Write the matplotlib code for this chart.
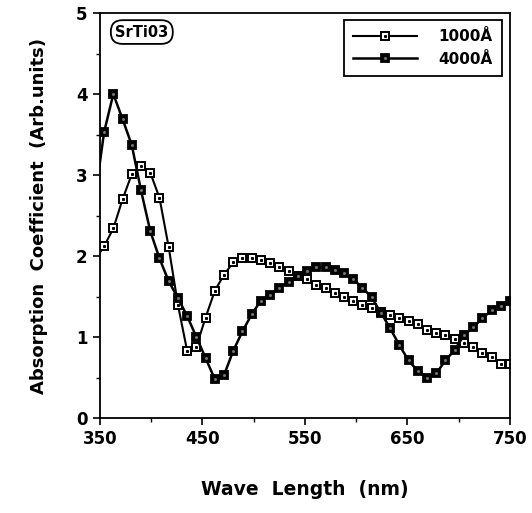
import matplotlib
matplotlib.use("Agg")
import matplotlib.pyplot as plt
from matplotlib.legend_handler import HandlerTuple

# wavelength grid (first point sits just left of the frame)
wavelength = [345, 354, 363, 372, 381, 390, 399, 408, 417, 426, 435, 444, 453,
              462, 471, 480, 489, 498, 507, 516, 525, 534, 543, 552, 561, 570,
              579, 588, 597, 606, 615, 624, 633, 642, 651, 660, 669, 678, 687,
              696, 705, 714, 723, 732, 741, 750]

a1000 = [1.95, 2.12, 2.34, 2.70, 3.01, 3.11, 3.03, 2.72, 2.11, 1.40, 0.83, 0.88,
         1.24, 1.57, 1.77, 1.92, 1.97, 1.97, 1.95, 1.91, 1.87, 1.81, 1.75, 1.71,
         1.64, 1.60, 1.54, 1.50, 1.45, 1.40, 1.36, 1.31, 1.27, 1.24, 1.20, 1.16,
         1.09, 1.05, 1.03, 0.97, 0.92, 0.88, 0.80, 0.75, 0.67, 0.67]

a4000 = [2.70, 3.53, 4.00, 3.69, 3.37, 2.81, 2.31, 1.97, 1.69, 1.48, 1.26, 1.00,
         0.74, 0.48, 0.53, 0.83, 1.07, 1.28, 1.45, 1.52, 1.61, 1.68, 1.75, 1.82,
         1.86, 1.86, 1.83, 1.79, 1.71, 1.61, 1.49, 1.30, 1.11, 0.90, 0.71, 0.58,
         0.50, 0.55, 0.71, 0.84, 1.02, 1.12, 1.23, 1.33, 1.38, 1.45]

labels = ["1000\u00c5", "4000\u00c5"]
x_ticks = [350, 450, 550, 650, 750]
y_ticks = [0, 1, 2, 3, 4, 5]

plt.rcParams["font.family"] = ["DejaVu Sans"]
plt.rcParams["font.weight"] = "bold"

fig = plt.figure(figsize=(5.32, 5.13), dpi=100)
ax = fig.add_axes([100 / 532, 1 - 418 / 513, 410 / 532, 405 / 513])

l1, = ax.plot(wavelength, a1000, color="black", lw=1.5, marker="s", ms=5.5,
              mfc="white", mec="black", mew=1.4)
d1, = ax.plot(wavelength, a1000, ls="none", marker="s", ms=1.2,
              mfc="black", mec="black")
l2, = ax.plot(wavelength, a4000, color="black", lw=1.8, marker="s", ms=5.8,
              mfc="black", mec="black", mew=1.3)
d2, = ax.plot(wavelength, a4000, ls="none", marker="s", ms=1.0,
              mfc="#777777", mec="#777777")

ax.set_xlim(350, 750)
ax.set_ylim(0, 5)
ax.set_xticks(x_ticks)
ax.set_xticks([400, 500, 600, 700], minor=True)
ax.set_yticks(y_ticks)
ax.set_yticks([0.5, 1.5, 2.5, 3.5, 4.5], minor=True)
ax.tick_params(which="major", direction="out", length=5, width=1.2,
               labelsize=12, pad=4)
ax.tick_params(which="minor", direction="out", length=3, width=1.0)
for sp in ax.spines.values():
    sp.set_linewidth(1.3)

ax.set_xlabel("Wave  Length  (nm)", fontsize=13.5, fontweight="bold", labelpad=23)
ax.set_ylabel("Absorption  Coefficient  (Arb.units)", fontsize=13, fontweight="bold",
              labelpad=20)

ax.text(0.102, 0.953, "SrTi03", transform=ax.transAxes, ha="center", va="center",
        fontsize=10.5, fontweight="bold",
        bbox=dict(boxstyle="round,pad=0.3,rounding_size=0.8", fc="white",
                  ec="black", lw=1.3))

leg = ax.legend([(l1, d1), (l2, d2)], labels, loc="upper right",
                bbox_to_anchor=(0.98, 0.983), borderaxespad=0, fontsize=11,
                handlelength=4.2, handletextpad=1.4, borderpad=0.6,
                labelspacing=0.5, fancybox=False, framealpha=1,
                edgecolor="black", handler_map={tuple: HandlerTuple(ndivide=1)})
leg.get_frame().set_linewidth(1.3)
for t in leg.get_texts():
    t.set_fontweight("bold")

fig.savefig("out.png", dpi=100)
